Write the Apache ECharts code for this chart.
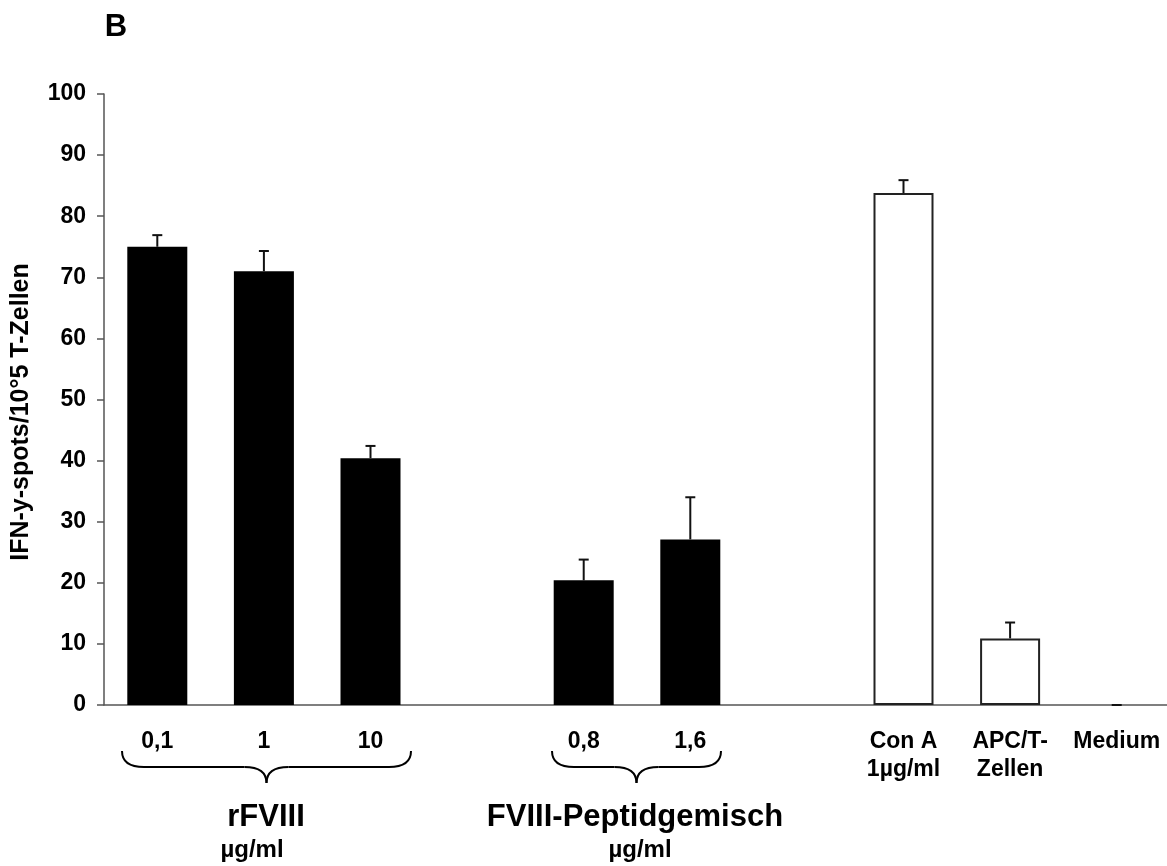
<!DOCTYPE html>
<html>
<head>
<meta charset="utf-8">
<title>IFN-γ ELISpot</title>
<script src="https://cdn.jsdelivr.net/npm/echarts@6/dist/echarts.min.js"></script>
<style>
  html, body { margin: 0; padding: 0; background: #fff; }
  #chart { width: 1167px; height: 866px; }
</style>
</head>
<body>
<div id="chart"></div>
<script>
// Stimulation conditions (empty slots separate the groups)
const categories = ['0,1', '1', '10', '', '0,8', '1,6', '', 'Con A\n1µg/ml', 'APC/T-\nZellen', 'Medium'];
// Mean spot counts per 10^5 T cells
const spotMeans = [75.0, 71.0, 40.4, null, 20.4, 27.1, null, 83.8, 10.9, 0];
// Upper error (SD) per condition
const spotErrors = [1.9, 3.3, 2.0, null, 3.4, 6.9, null, 2.1, 2.6, 0];
// Antigen stimulations are drawn filled, controls drawn as outlines
const isControl = [false, false, false, false, false, false, false, true, true, true];
const yTicks = { min: 0, max: 100, interval: 10 };

const FONT = '"Liberation Sans", Arial, Helvetica, sans-serif';
const chart = echarts.init(document.getElementById('chart'));

const barData = spotMeans.map((v, i) => ({
  value: v,
  itemStyle: isControl[i]
    ? { color: '#ffffff', borderColor: '#222', borderWidth: v > 0 ? 2 : 0 }
    : { color: '#000000', borderColor: '#000', borderWidth: 0 }
}));

const errData = spotMeans.map((v, i) => (v === null ? null : [i, v, v + spotErrors[i]]))
  .filter(d => d !== null);

// Curly brace below a group of categories, built from curves and lines
function brace(x1, x2, y0, y1, y2) {
  const xm = (x1 + x2) / 2;
  const r = 22;
  const st = { stroke: '#000', lineWidth: 2, fill: null };
  return [
    { type: 'bezierCurve', shape: { x1: x1, y1: y0, cpx1: x1, cpy1: y1, x2: x1 + r, y2: y1 }, style: st },
    { type: 'line', shape: { x1: x1 + r, y1: y1, x2: xm - r, y2: y1 }, style: st },
    { type: 'bezierCurve', shape: { x1: xm - r, y1: y1, cpx1: xm, cpy1: y1, x2: xm, y2: y2 }, style: st },
    { type: 'bezierCurve', shape: { x1: xm, y1: y2, cpx1: xm, cpy1: y1, x2: xm + r, y2: y1 }, style: st },
    { type: 'line', shape: { x1: xm + r, y1: y1, x2: x2 - r, y2: y1 }, style: st },
    { type: 'bezierCurve', shape: { x1: x2 - r, y1: y1, cpx1: x2, cpy1: y1, x2: x2, y2: y0 }, style: st }
  ];
}

function label(text, x, y, size) {
  return {
    type: 'text', x: x, y: y,
    style: { text: text, fontFamily: FONT, fontWeight: 'bold', fontSize: size, fill: '#000', align: 'center', verticalAlign: 'middle' }
  };
}

chart.setOption({
  animation: false,
  backgroundColor: '#ffffff',
  grid: { left: 104, top: 94, bottom: 161, width: 1066, containLabel: false, outerBoundsMode: 'none' },
  xAxis: {
    type: 'category',
    data: categories,
    axisLine: { show: true, lineStyle: { color: '#555', width: 1.5 } },
    axisTick: { show: false },
    axisLabel: {
      interval: 0,
      color: '#000',
      fontFamily: FONT,
      fontWeight: 'bold',
      fontSize: 23,
      lineHeight: 28,
      margin: 23
    }
  },
  yAxis: {
    type: 'value',
    min: yTicks.min,
    max: yTicks.max,
    interval: yTicks.interval,
    splitLine: { show: false },
    axisLine: { show: true, lineStyle: { color: '#555', width: 1.5 } },
    axisTick: { show: true, inside: false, length: 7, lineStyle: { color: '#555', width: 1.5 } },
    axisLabel: {
      color: '#000',
      fontFamily: FONT,
      fontWeight: 'bold',
      fontSize: 23,
      margin: 18
    }
  },
  series: [
    {
      type: 'bar',
      data: barData,
      barWidth: 60,
      z: 2
    },
    {
      type: 'custom',
      z: 3,
      data: errData,
      renderItem: function (params, api) {
        const x = api.coord([api.value(0), api.value(1)]);
        const top = api.coord([api.value(0), api.value(2)]);
        const half = 5;
        return {
          type: 'group',
          children: [
            {
              type: 'line',
              shape: { x1: x[0], y1: x[1], x2: top[0], y2: top[1] },
              style: { stroke: '#111', lineWidth: 2 }
            },
            {
              type: 'line',
              shape: { x1: top[0] - half, y1: top[1], x2: top[0] + half, y2: top[1] },
              style: { stroke: '#111', lineWidth: 2 }
            }
          ]
        };
      }
    }
  ],
  graphic: [
    label('B', 116, 27, 31),
    {
      type: 'text', x: 21, y: 412, rotation: Math.PI / 2,
      style: {
        text: 'IFN-y-spots/10°5 T-Zellen', fontFamily: FONT, fontWeight: 'bold',
        fontSize: 25, fill: '#000', align: 'center', verticalAlign: 'middle'
      }
    },
    ...brace(122, 411, 751, 767, 783),
    ...brace(552, 721, 751, 767, 783),
    label('rFVIII', 266, 817, 31),
    label('µg/ml', 252, 850, 24),
    label('FVIII-Peptidgemisch', 635, 817, 31),
    label('µg/ml', 640, 850, 24)
  ]
});
</script>
</body>
</html>
